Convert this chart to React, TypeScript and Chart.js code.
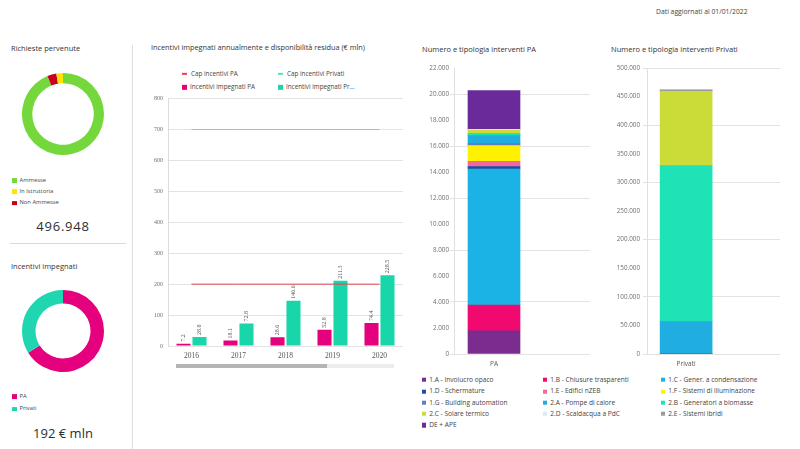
import React, { useEffect, useRef } from 'react';
import { Chart, registerables } from 'chart.js';

Chart.register(...registerables);

const FONT = '"Open Sans", "Noto Sans", sans-serif';
const SERIF = '"Liberation Serif", "DejaVu Serif", serif';
const TEXT = '#333333';
const TICK = '#6f6f6f';
const GRID = '#e3e3e3';

// ---- Richieste pervenute ----
const richiesteLabels = ['Ammesse', 'In Istruttoria', 'Non Ammesse'];
const richiesteValues = [466148, 12900, 17900];
const richiesteColors = ['#74d83c', '#ffe500', '#c8001e'];
const richiesteDrawOrder = [0, 2, 1];
const richiesteTotale = '496.948';

// ---- Incentivi impegnati ----
const impegnatiLabels = ['PA', 'Privati'];
const impegnatiValues = [127, 65];
const impegnatiColors = ['#e5007d', '#1fd6b0'];
const impegnatiTotale = '192 € mln';

// ---- Incentivi annuali ----
const anni = ['2016', '2017', '2018', '2019', '2020'];
const annualiPA = [7.2, 18.1, 28.6, 52.8, 74.4];
const annualiPrivati = [28.8, 72.8, 146.6, 211.3, 228.5];
const capPA = [200, 200, 200, 200, 200];
const capPrivati = [700, 700, 700, 700, 700];
const annualiTicks = [0, 100, 200, 300, 400, 500, 600, 700, 800];

// ---- Interventi ----
const tipologie = [
  '1.A - Involucro opaco',
  '1.B - Chiusure trasparenti',
  '1.C - Gener. a condensazione',
  '1.D - Schermature',
  '1.E - Edifici nZEB',
  '1.F - Sistemi di illuminazione',
  '1.G - Building automation',
  '2.A - Pompe di calore',
  '2.B - Generatori a biomasse',
  '2.C - Solare termico',
  '2.D - Scaldacqua a PdC',
  '2.E - Sistemi ibridi',
  'DE + APE',
];
const tipologieColori = [
  '#7b2d8f', '#f0096f', '#1bb3e6', '#1c4fa3', '#f2689a', '#fff200', '#5b7fc6',
  '#20aee0', '#1de3b6', '#cbdc38', '#dce9f7', '#9b9b9b', '#6a2a9a',
];
const interventiPA = [1790, 1980, 10460, 180, 415, 1200, 185, 584, 185, 254, 40, 15, 2966];
const interventiPrivati = [0, 0, 0, 0, 0, 0, 0, 56500, 272700, 130100, 0, 2300, 0];
const categoriaPA = 'PA';
const categoriaPrivati = 'Privati';

const fmtIt = (v: number) => String(Math.round(v)).replace(/\B(?=(\d{3})+(?!\d))/g, '.');

function ChartBox({ style, config }: { style: any; config: () => any }) {
  const ref = useRef<HTMLCanvasElement>(null);
  useEffect(() => {
    const chart = new Chart(ref.current as HTMLCanvasElement, config());
    return () => chart.destroy();
  }, []);
  return (
    <div style={{ position: 'absolute', ...style }}>
      <canvas ref={ref} />
    </div>
  );
}

function Txt({ x, y, size, children, color = TEXT, center = false, extra = {} }: any) {
  return (
    <div
      style={{
        position: 'absolute', left: x, top: y, fontSize: size, color, fontFamily: FONT,
        lineHeight: 1, whiteSpace: 'nowrap',
        transform: center ? 'translate(-50%,-50%)' : 'translateY(-50%)', ...extra,
      }}
    >
      {children}
    </div>
  );
}

function LegendItem({ x, y, color, label, size = 6.3, box = 4.5, line = false }: any) {
  return (
    <div style={{ position: 'absolute', left: x, top: y, transform: 'translateY(-50%)', display: 'flex', alignItems: 'center', whiteSpace: 'nowrap' }}>
      <div style={{ width: line ? 5 : box, height: line ? 1.5 : box, background: color, marginRight: line ? 4 : 3 }} />
      <span style={{ fontFamily: FONT, fontSize: size, color: '#444', lineHeight: 1 }}>{label}</span>
    </div>
  );
}

const donutConfig = (labels: string[], values: number[], colors: string[], cutout: string) => () => ({
  type: 'doughnut',
  data: { labels, datasets: [{ data: values, backgroundColor: colors, borderWidth: 0 }] },
  options: {
    animation: false, responsive: true, maintainAspectRatio: false, cutout,
    layout: { padding: 0 },
    plugins: { legend: { display: false }, tooltip: { enabled: false } },
  },
});

const barValueLabels = {
  id: 'barValueLabels',
  afterDatasetsDraw(chart: any) {
    const ctx = chart.ctx;
    chart.data.datasets.forEach((ds: any, di: number) => {
      if (ds.type === 'line') return;
      const meta = chart.getDatasetMeta(di);
      meta.data.forEach((el: any, i: number) => {
        const v = ds.data[i];
        ctx.save();
        ctx.translate(el.x, el.y - 2);
        ctx.rotate(-Math.PI / 2);
        ctx.font = `6px ${SERIF}`;
        ctx.fillStyle = '#555';
        ctx.textAlign = 'left';
        ctx.textBaseline = 'middle';
        ctx.fillText(v.toFixed(1), 0, 0);
        ctx.restore();
      });
    });
  },
};

const annualiConfig = () => ({
  type: 'bar',
  data: {
    labels: anni,
    datasets: [
      { type: 'line', label: 'Cap incentivi PA', data: capPA, borderColor: '#e8404f', borderWidth: 1, pointRadius: 0, order: 0 },
      { type: 'line', label: 'Cap incentivi Privati', data: capPrivati, borderColor: '#55e3c8', borderWidth: 1, pointRadius: 0, order: 0 },
      { label: 'Incentivi impegnati PA', data: annualiPA, backgroundColor: '#e5007d', categoryPercentage: 0.68, barPercentage: 0.88, order: 1 },
      { label: 'Incentivi impegnati Privati', data: annualiPrivati, backgroundColor: '#19d6aa', categoryPercentage: 0.68, barPercentage: 0.88, order: 1 },
    ],
  },
  options: {
    animation: false, responsive: true, maintainAspectRatio: false,
    layout: { padding: { top: 6, right: 5, left: 0, bottom: 0 } },
    plugins: { legend: { display: false }, tooltip: { enabled: false } },
    scales: {
      x: {
        grid: { display: false, drawTicks: false },
        border: { display: false },
        ticks: { font: { family: SERIF, size: 7.5 }, color: '#555', padding: 6, maxRotation: 0 },
        afterFit: (s: any) => { s.height = 16; },
      },
      y: {
        min: 0, max: 800,
        afterBuildTicks: (s: any) => { s.ticks = annualiTicks.map((v) => ({ value: v })); },
        ticks: { font: { family: SERIF, size: 6 }, color: TICK, padding: 5 },
        grid: { color: GRID, drawTicks: false },
        border: { display: true, color: '#dcdcdc' },
        afterFit: (s: any) => { s.width = 28; },
      },
    },
  },
  plugins: [barValueLabels],
});

const interventiConfig = (values: number[], label: string, max: number, step: number, yWidth: number, pad: number) => () => ({
  type: 'bar',
  data: {
    datasets: tipologie.map((t, i) => ({
      label: t,
      data: [{ x: 0, y: values[i] }],
      backgroundColor: tipologieColori[i],
      borderWidth: 0,
      barThickness: 52,
    })),
  },
  options: {
    animation: false, responsive: true, maintainAspectRatio: false,
    layout: { padding: { top: 8, right: 0, left: 0, bottom: 0 } },
    plugins: { legend: { display: false }, tooltip: { enabled: false } },
    scales: {
      x: {
        type: 'linear', stacked: true, offset: false, min: -0.5, max: 1.2, bounds: 'data',
        afterBuildTicks: (s: any) => { s.ticks = [{ value: 0 }]; },
        ticks: { callback: () => label, font: { family: FONT, size: 6.5 }, color: '#555', padding: 6, maxRotation: 0 },
        grid: { display: false, drawTicks: false, offset: false },
        border: { display: false },
        afterFit: (s: any) => { s.height = 16; },
      },
      y: {
        stacked: true, min: 0, max,
        ticks: { stepSize: step, callback: (v: number) => fmtIt(v), font: { family: FONT, size: 6.3 }, color: TICK, padding: pad },
        grid: { color: (c: any) => (c.index % 2 === 0 ? GRID : 'rgba(0,0,0,0)'), tickLength: 4, drawTicks: true },
        border: { display: true, color: '#e0e0e0' },
        afterFit: (s: any) => { s.width = yWidth; },
      },
    },
  },
});

export default function App() {
  const richiesteOrdered = richiesteDrawOrder.map((i) => richiesteValues[i]);
  const richiesteColOrdered = richiesteDrawOrder.map((i) => richiesteColors[i]);
  const richiesteLabOrdered = richiesteDrawOrder.map((i) => richiesteLabels[i]);
  const cols = [422, 543, 661];
  const rows = [380, 391.3, 402.6, 413.9, 425.2];

  return (
    <div style={{ position: 'fixed', left: 0, top: 0, width: 800, height: 449, background: '#fff', overflow: 'hidden' }}>
      <Txt x={656} y={12} size={6.8} color="#444">Dati aggiornati al 01/01/2022</Txt>

      {/* Left column */}
      <Txt x={11} y={49} size={7.5}>Richieste pervenute</Txt>
      <ChartBox style={{ left: 22, top: 73, width: 82, height: 82 }} config={donutConfig(richiesteLabOrdered, richiesteOrdered, richiesteColOrdered, '75%')} />
      {richiesteLabels.map((l, i) => (
        <LegendItem key={l} x={12} y={[180.7, 191.7, 203.3][i]} color={richiesteColors[i]} label={l} size={5.8} />
      ))}
      <Txt x={63} y={225.5} size={13} center extra={{ letterSpacing: 0.8, color: '#2e2e2e' }}>{richiesteTotale}</Txt>
      <div style={{ position: 'absolute', left: 10, top: 243, width: 116, height: 1, background: '#d9d9d9' }} />

      <Txt x={11} y={267} size={7.5}>Incentivi impegnati</Txt>
      <ChartBox style={{ left: 22, top: 290, width: 82, height: 82 }} config={donutConfig(impegnatiLabels, impegnatiValues, impegnatiColors, '67%')} />
      {impegnatiLabels.map((l, i) => (
        <LegendItem key={l} x={12} y={[396.7, 409.3][i]} color={impegnatiColors[i]} label={l} size={5.8} />
      ))}
      <Txt x={63} y={433} size={13} center extra={{ color: '#2e2e2e' }}>{impegnatiTotale}</Txt>

      <div style={{ position: 'absolute', left: 132, top: 45, width: 1, height: 404, background: '#dedede' }} />

      {/* Middle chart */}
      <Txt x={151} y={48} size={7.3}>Incentivi impegnati annualmente e disponibilità residua (€ mln)</Txt>
      <LegendItem x={182} y={74} color="#e8404f" label="Cap incentivi PA" line />
      <LegendItem x={278} y={74} color="#55e3c8" label="Cap incentivi Privati" line />
      <LegendItem x={182} y={87} color="#e5007d" label="Incentivi impegnati PA" box={5} />
      <LegendItem x={278} y={87} color="#19d6aa" label="Incentivi impegnati Pr..." box={5} />
      <ChartBox style={{ left: 140, top: 90, width: 268, height: 272 }} config={annualiConfig} />
      <div style={{ position: 'absolute', left: 176, top: 363.5, width: 218, height: 4, background: '#ececec' }} />
      <div style={{ position: 'absolute', left: 176, top: 363.5, width: 151, height: 4, background: '#b4b4b4' }} />

      {/* PA chart */}
      <Txt x={422} y={50} size={7.5}>Numero e tipologia interventi PA</Txt>
      <ChartBox style={{ left: 410, top: 60, width: 180, height: 310 }} config={interventiConfig(interventiPA, categoriaPA, 22000, 2000, 44, 1)} />

      {/* Privati chart */}
      <Txt x={611} y={50} size={7.5}>Numero e tipologia interventi Privati</Txt>
      <ChartBox style={{ left: 597, top: 60, width: 183, height: 310 }} config={interventiConfig(interventiPrivati, categoriaPrivati, 500000, 50000, 50, 3)} />

      {/* Shared legend */}
      {tipologie.map((t, i) => (
        <LegendItem key={t} x={cols[i % 3]} y={rows[Math.floor(i / 3)]} color={tipologieColori[i]} label={t} size={6.6} box={4.2} />
      ))}
    </div>
  );
}
